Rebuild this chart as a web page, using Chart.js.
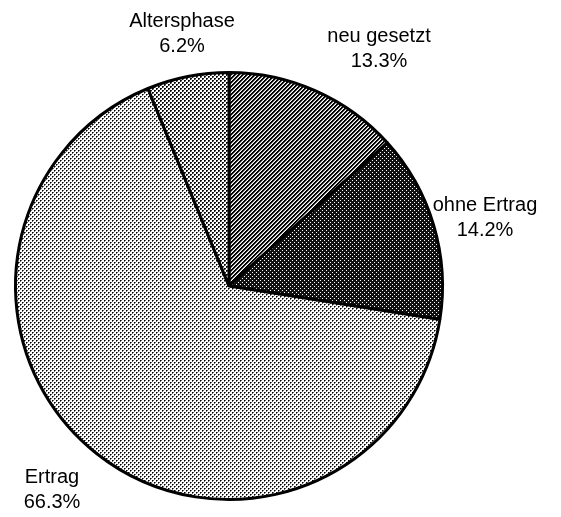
<!DOCTYPE html>
<html>
<head>
<meta charset="utf-8">
<script src="https://cdn.jsdelivr.net/npm/chart.js@4"></script>
<style>
  body { margin: 0; background: #fff; }
  canvas { display: block; }
</style>
</head>
<body>
<canvas id="pieChart" width="561" height="517"></canvas>
<script>
// categories and shares (percent), clockwise from 12 o'clock
const labels = ['neu gesetzt', 'ohne Ertrag', 'Ertrag', 'Altersphase'];
const shares = [13.3, 14.2, 66.3, 6.2];
const shareLabels = ['13.3%', '14.2%', '66.3%', '6.2%'];

// little stipple tiles to imitate the printed screen
const makePattern = (size, bg, pick) => {
  const c = document.createElement('canvas');
  c.width = size;
  c.height = size;
  const g = c.getContext('2d');
  g.fillStyle = bg;
  g.fillRect(0, 0, size, size);
  for (let y = 0; y < size; y++) {
    for (let x = 0; x < size; x++) {
      const col = pick(x, y);
      if (col) {
        g.fillStyle = col;
        g.fillRect(x, y, 1, 1);
      }
    }
  }
  return g.createPattern(c, 'repeat');
};

const dotGrid = (dark, ring, mid) => (x, y) => {
  if ((x === 0 && y === 0) || (x === 2 && y === 2)) return dark;
  if ((x === 1 && y === 0) || (x === 0 && y === 1) || (x === 3 && y === 2) || (x === 2 && y === 3)) return ring;
  if (mid && ((x === 1 && y === 1) || (x === 3 && y === 3))) return mid;
  return null;
};

const fills = [
  // diagonal screen, medium dark
  makePattern(4, '#fff', (x, y) => {
    const k = (x + y) % 4;
    return k < 2 ? '#000' : (k === 2 ? '#999' : null);
  }),
  // nearly black with white specks
  makePattern(4, '#111', (x, y) => ((x === 0 && y === 0) || (x === 2 && y === 2)) ? '#fff' : null),
  // light dots
  makePattern(4, '#fff', dotGrid('#000', '#666', null)),
  // denser dots
  makePattern(4, '#fff', dotGrid('#000', '#222', '#999'))
];

// label anchors relative to pie centre (centre of the two text lines)
const labelOffsets = [[150, -237], [256, -68], [-177, 204], [-47, -252]];

const pieLabels = {
  id: 'pieLabels',
  afterDraw(chart) {
    const ctx = chart.ctx;
    const arcs = chart.getDatasetMeta(0).data;
    ctx.save();
    ctx.fillStyle = '#000';
    ctx.font = '20px "Liberation Sans", Arial, sans-serif';
    ctx.textAlign = 'center';
    ctx.textBaseline = 'middle';
    arcs.forEach((arc, i) => {
      const x = arc.x + labelOffsets[i][0];
      const y = arc.y + labelOffsets[i][1];
      ctx.fillText(labels[i], x, y - 12.5);
      ctx.fillText(shareLabels[i], x, y + 12.5);
    });
    ctx.restore();
  }
};

new Chart(document.getElementById('pieChart'), {
  type: 'pie',
  data: {
    labels: labels,
    datasets: [{
      data: shares,
      backgroundColor: fills,
      borderColor: '#000',
      borderWidth: 3
    }]
  },
  options: {
    responsive: false,
    animation: false,
    events: [],
    layout: { padding: { left: 14, right: 117, top: 71, bottom: 16 } },
    plugins: {
      legend: { display: false },
      tooltip: { enabled: false }
    }
  },
  plugins: [pieLabels]
});
</script>
</body>
</html>
